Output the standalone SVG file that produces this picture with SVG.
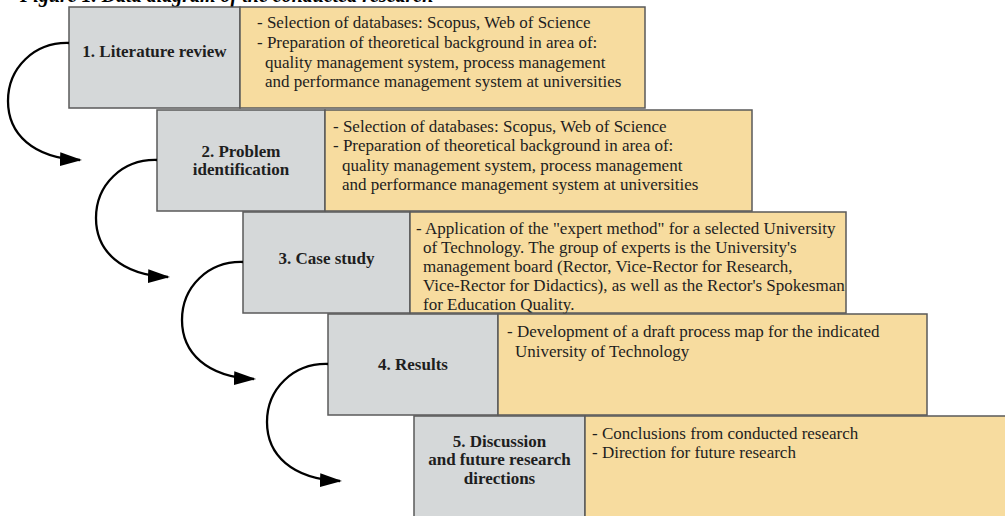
<svg xmlns="http://www.w3.org/2000/svg" width="1005" height="516" viewBox="0 0 1005 516">
<defs>
<style>
.bg{fill:#ffffff}
.gray{fill:#d5d8d9;stroke:#5a5a5a;stroke-width:1.5}
.yel{fill:#f7dc9f;stroke:#5a5a5a;stroke-width:1.5}
.title{font-family:"Liberation Serif",serif;font-weight:bold;font-size:17px;fill:#1e1e1e;text-anchor:middle}
.desc{font-family:"Liberation Serif",serif;font-size:17px;fill:#1e1e1e}
.cap{font-family:"Liberation Serif",serif;font-weight:bold;font-style:italic;font-size:20px;fill:#000}
.conn{fill:none;stroke:#000;stroke-width:2.3}
</style>
<marker id="ah" viewBox="0 0 22 14" refX="20" refY="7" markerWidth="22" markerHeight="14" markerUnits="userSpaceOnUse" orient="auto">
<path d="M0,0 L22,7 L0,14 z" fill="#000"/>
</marker>
</defs>
<rect class="bg" x="0" y="0" width="1005" height="516"/>
<text class="cap" x="20" y="2">Figure 1. Data diagram of the conducted research</text>

<g id="node1">
<rect class="gray" x="69" y="7" width="171" height="101"/>
<rect class="yel" x="240" y="7" width="405" height="101"/>
<text class="title" x="154.5" y="57">1. Literature review</text>
<text class="desc" x="257" y="28">- Selection of databases: Scopus, Web of Science</text>
<text class="desc" x="257" y="48">- Preparation of theoretical background in area of:</text>
<text class="desc" x="265" y="68">quality management system, process management</text>
<text class="desc" x="265" y="87">and performance management system at universities</text>
</g>

<g id="node2">
<rect class="gray" x="157" y="110" width="168" height="101"/>
<rect class="yel" x="325" y="110" width="427" height="101"/>
<text class="title" x="241" y="157">2. Problem</text>
<text class="title" x="241" y="175">identification</text>
<text class="desc" x="333" y="132">- Selection of databases: Scopus, Web of Science</text>
<text class="desc" x="333" y="151">- Preparation of theoretical background in area of:</text>
<text class="desc" x="342" y="171">quality management system, process management</text>
<text class="desc" x="342" y="190">and performance management system at universities</text>
</g>

<g id="node3">
<rect class="gray" x="243" y="212" width="167" height="101"/>
<rect class="yel" x="410" y="212" width="436" height="101"/>
<text class="title" x="326.5" y="264">3. Case study</text>
<text class="desc" x="416" y="234">- Application of the "expert method" for a selected University</text>
<text class="desc" x="423" y="253">of Technology.  The group of experts is the University's</text>
<text class="desc" x="423" y="272">management board (Rector, Vice-Rector for Research,</text>
<text class="desc" x="423" y="291">Vice-Rector for Didactics), as well as the Rector's Spokesman</text>
<text class="desc" x="423" y="310">for Education Quality.</text>
</g>

<g id="node4">
<rect class="gray" x="328" y="314" width="170" height="101"/>
<rect class="yel" x="498" y="314" width="429" height="101"/>
<text class="title" x="413" y="370">4. Results</text>
<text class="desc" x="507" y="337">- Development of a draft process map for the indicated</text>
<text class="desc" x="515" y="357">University of Technology</text>
</g>

<g id="node5">
<rect class="gray" x="414" y="416" width="171" height="104"/>
<rect class="yel" x="585" y="416" width="425" height="104"/>
<text class="title" x="499.5" y="447">5. Discussion</text>
<text class="title" x="499.5" y="465">and future research</text>
<text class="title" x="499.5" y="484">directions</text>
<text class="desc" x="592" y="439">- Conclusions from conducted research</text>
<text class="desc" x="592" y="458">- Direction for future research</text>
</g>

<g id="connectors">
<path class="conn" marker-end="url(#ah)" d="M69,43 C34,42 8,68 8,101 C8,134 33,158 80,160"/>
<path class="conn" marker-end="url(#ah)" d="M157,160 C122,159 96,185 96,218 C96,251 121,275 168,277"/>
<path class="conn" marker-end="url(#ah)" d="M243,262 C208,261 182,287 182,320 C182,353 207,377 254,379"/>
<path class="conn" marker-end="url(#ah)" d="M328,364 C293,363 267,389 267,422 C267,455 292,479 340,481"/>
</g>
</svg>
